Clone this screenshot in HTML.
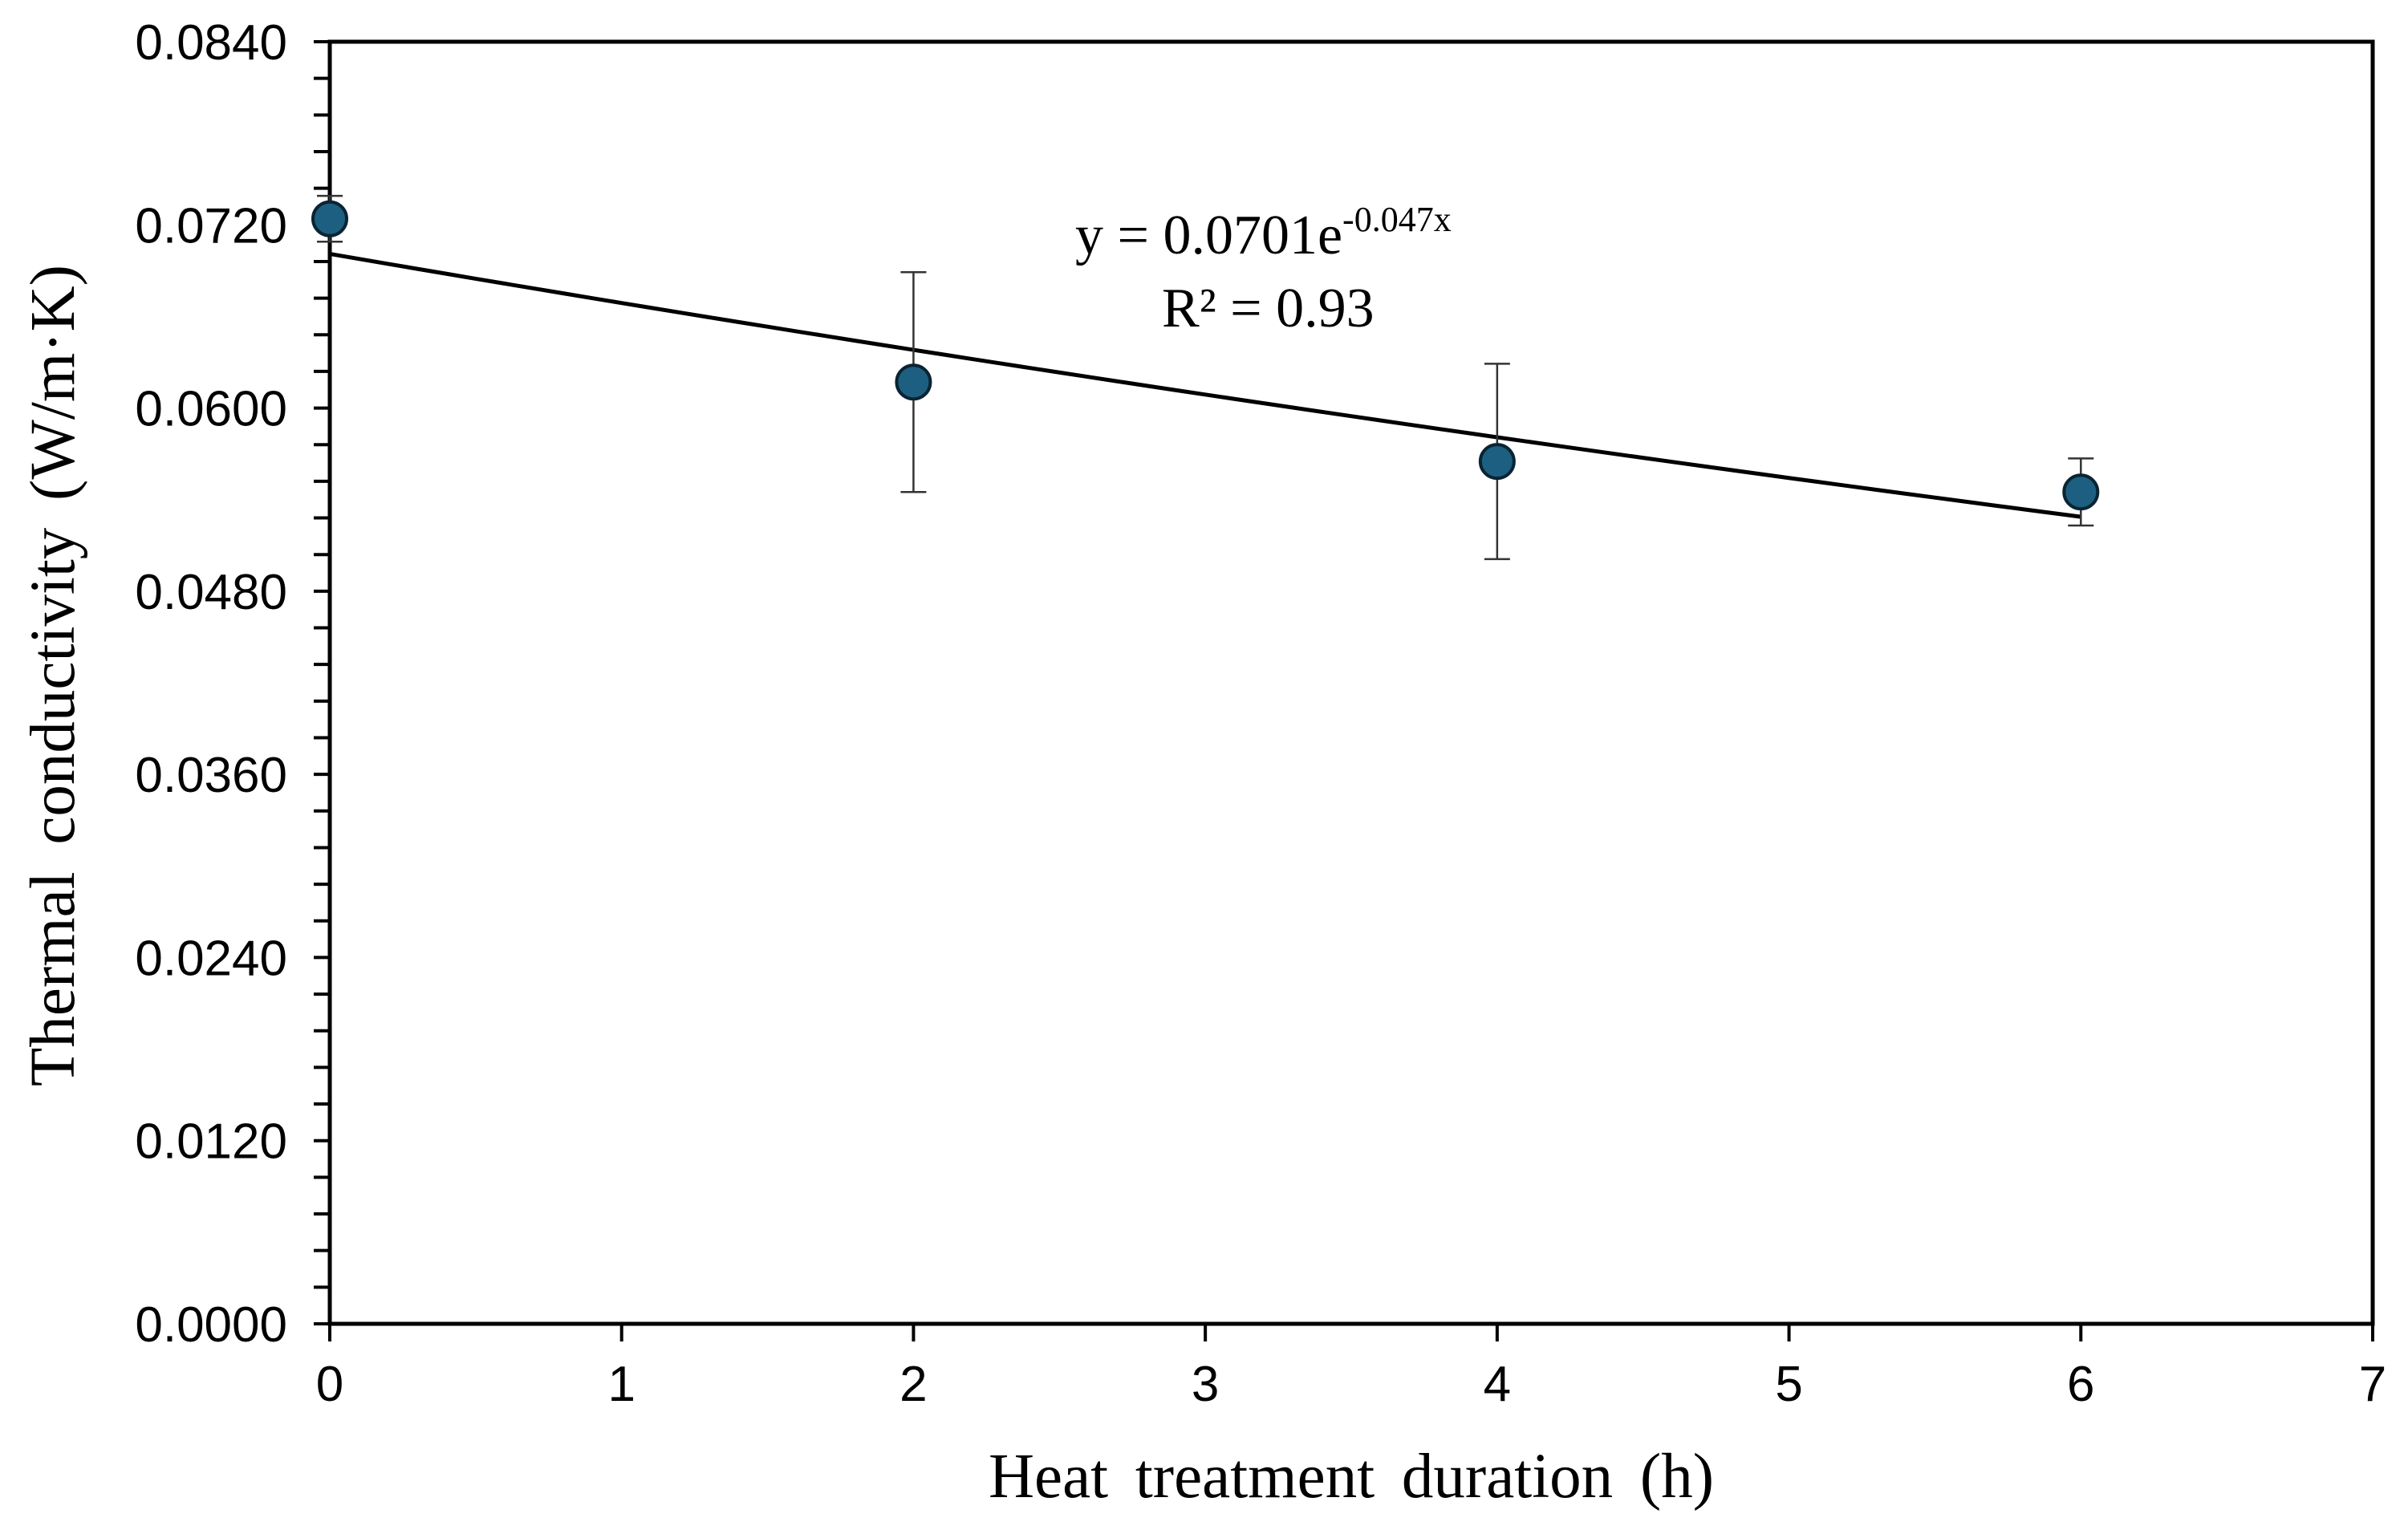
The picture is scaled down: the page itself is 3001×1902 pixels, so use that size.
<!DOCTYPE html>
<html><head><meta charset="utf-8"><style>
html,body{margin:0;padding:0;background:#fff;}
svg{display:block;}
</style></head><body>
<svg id="chart" width="3001" height="1902" viewBox="0 0 3001 1902" xmlns="http://www.w3.org/2000/svg">
<rect width="3001" height="1902" fill="#fff"/>
<g id="plot"></g>
</svg>
<script>
const xValues = [0, 2, 4, 6];
const yValues = [0.0724, 0.0617, 0.0565, 0.0545];
const yErrors = [0.0015, 0.0072, 0.0064, 0.0022];
const fitA = 0.0701;
const fitB = -0.047;
const yTickLabels = ["0.0000","0.0120","0.0240","0.0360","0.0480","0.0600","0.0720","0.0840"];
const xTickLabels = ["0","1","2","3","4","5","6","7"];

const L=411, R=2957, T=52, B=1650;
const xMin=0,xMax=7,yMin=0,yMax=0.084;
function sx(v){return L+(v-xMin)/(xMax-xMin)*(R-L);}
function sy(v){return B-(v-yMin)/(yMax-yMin)*(B-T);}
const NS="http://www.w3.org/2000/svg";
const g=document.getElementById('plot');
function el(tag,attrs,parent){const e=document.createElementNS(NS,tag);for(const k in attrs)e.setAttribute(k,attrs[k]);(parent||g).appendChild(e);return e;}

const frame=el('rect',{x:L,y:T,width:R-L,height:B-T,fill:'none',stroke:'#000','stroke-width':5});



for(let i=0;i<=35;i++){
  const v=i*0.0024;
  const t=el('line',{x1:L-20,x2:L,y1:sy(v),y2:sy(v),stroke:'#000','stroke-width':4});
  
  
}
yTickLabels.forEach(s=>{
  const v=parseFloat(s);
  const t=el('text',{x:358,y:sy(v)+22,'text-anchor':'end','font-family':'"Liberation Sans",sans-serif','font-size':62,fill:'#000'});
  t.textContent=s;
  
  
});
xTickLabels.forEach(s=>{
  const v=parseFloat(s);
  const t=el('line',{x1:sx(v),x2:sx(v),y1:B,y2:B+22,stroke:'#000','stroke-width':4});
  
  
  const l=el('text',{x:sx(v),y:1746,'text-anchor':'middle','font-family':'"Liberation Sans",sans-serif','font-size':62,fill:'#000'});
  l.textContent=s;
  
  
});

let pts=[];
for(let i=0;i<=60;i++){const x=xValues[0]+(xValues[xValues.length-1]-xValues[0])*i/60;pts.push(sx(x)+','+sy(fitA*Math.exp(fitB*x)));}
const fit=el('polyline',{points:pts.join(' '),fill:'none',stroke:'#000','stroke-width':5});



xValues.forEach((x,i)=>{
  const cx=sx(x),top=sy(yValues[i]+yErrors[i]),bot=sy(yValues[i]-yErrors[i]);
  const eb=el('path',{d:`M${cx},${top}V${bot}M${cx-16},${top}H${cx+16}M${cx-16},${bot}H${cx+16}`,stroke:'#333','stroke-width':2.5,fill:'none'});
  
  
});
xValues.forEach((x,i)=>{
  const c=el('circle',{cx:sx(x),cy:sy(yValues[i]),r:21,fill:'#1d5f80',stroke:'#0a2433','stroke-width':4});
  
  
});

const eq=el('text',{x:1340,y:316,'font-family':'"Liberation Serif",serif','font-size':70,fill:'#000'});
eq.innerHTML='y = 0.0701e<tspan dy="-28" font-size="44">-0.047x</tspan>';


const r2=el('text',{x:1448,y:407,'font-family':'"Liberation Serif",serif','font-size':70,fill:'#000'});
r2.textContent='R² = 0.93';



const xt=el('text',{x:1684,y:1866,'text-anchor':'middle','font-family':'"Liberation Serif",serif','font-size':79,'word-spacing':14,fill:'#000'});
xt.textContent='Heat treatment duration (h)';


const yt=el('text',{x:0,y:0,'text-anchor':'middle','font-family':'"Liberation Serif",serif','font-size':79,'word-spacing':14,fill:'#000',transform:'translate(92,842) rotate(-90)'});
yt.textContent='Thermal conductivity (W/m·K)';


</script>
</body></html>
